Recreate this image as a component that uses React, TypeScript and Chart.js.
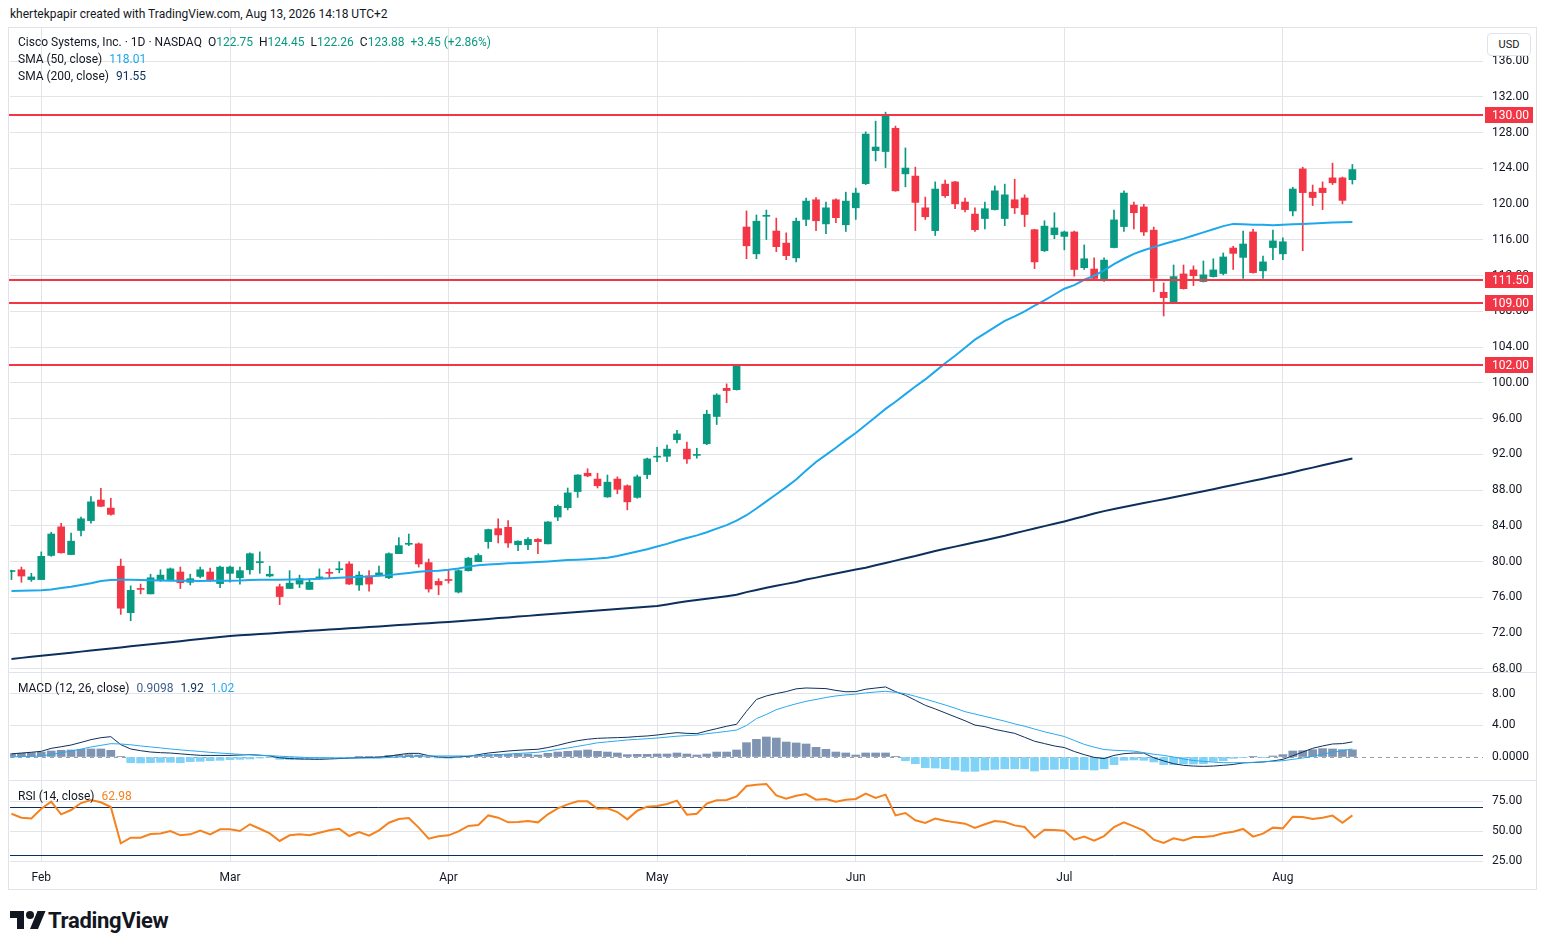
import React, { useEffect, useRef } from 'react';
import { Chart, registerables } from 'chart.js';

Chart.register(...registerables);

// ---------------- data ----------------
const dates = ['Jan 28','Jan 29','Jan 30','Feb 2','Feb 3','Feb 4','Feb 5','Feb 6','Feb 9','Feb 10','Feb 11','Feb 12','Feb 13','Feb 17','Feb 18','Feb 19','Feb 20','Feb 23','Feb 24','Feb 25','Feb 26','Feb 27','Mar 2','Mar 3','Mar 4','Mar 5','Mar 6','Mar 9','Mar 10','Mar 11','Mar 12','Mar 13','Mar 16','Mar 17','Mar 18','Mar 19','Mar 20','Mar 23','Mar 24','Mar 25','Mar 26','Mar 27','Mar 30','Mar 31','Apr 1','Apr 2','Apr 6','Apr 7','Apr 8','Apr 9','Apr 10','Apr 13','Apr 14','Apr 15','Apr 16','Apr 17','Apr 20','Apr 21','Apr 22','Apr 23','Apr 24','Apr 27','Apr 28','Apr 29','Apr 30','May 1','May 4','May 5','May 6','May 7','May 8','May 11','May 12','May 13','May 14','May 15','May 18','May 19','May 20','May 21','May 22','May 26','May 27','May 28','May 29','Jun 1','Jun 2','Jun 3','Jun 4','Jun 5','Jun 8','Jun 9','Jun 10','Jun 11','Jun 12','Jun 15','Jun 16','Jun 17','Jun 18','Jun 22','Jun 23','Jun 24','Jun 25','Jun 26','Jun 29','Jun 30','Jul 1','Jul 2','Jul 6','Jul 7','Jul 8','Jul 9','Jul 10','Jul 13','Jul 14','Jul 15','Jul 16','Jul 17','Jul 20','Jul 21','Jul 22','Jul 23','Jul 24','Jul 27','Jul 28','Jul 29','Jul 30','Jul 31','Aug 3','Aug 4','Aug 5','Aug 6','Aug 7','Aug 10','Aug 11','Aug 12'];

const opens = [
  78.9, 79.1, 78.0, 78.0, 80.7, 83.9, 80.8, 83.5, 84.6, 86.9,
  86.0, 79.5, 74.3, 77.0, 76.4, 77.9, 78.0, 78.85, 77.7, 78.35,
  78.85, 77.55, 78.7, 78.2, 79.1, 79.9, 78.4, 77.2, 77.0, 77.5,
  76.9, 78.1, 78.8, 79.1, 79.75, 77.4, 78.4, 78.5, 78.2, 80.9,
  81.95, 82.0, 79.9, 77.8, 78.0, 76.6, 79.0, 80.0, 82.25, 83.7,
  83.85, 81.9, 81.9, 82.5, 82.0, 85.0, 86.05, 87.85, 89.9, 89.25,
  87.25, 89.25, 88.5, 87.2, 89.75, 91.7, 91.8, 93.65, 92.6, 91.9,
  93.2, 96.25, 99.4, 99.25, 117.45, 114.45, 118.65, 117.0, 115.65, 114.0,
  118.3, 120.5, 117.8, 120.5, 117.7, 119.6, 122.3, 126.0, 125.9, 128.5,
  123.4, 123.15, 119.6, 117.05, 122.25, 122.5, 120.25, 118.9, 118.4, 119.4,
  118.4, 120.5, 120.7, 117.15, 114.8, 116.6, 116.4, 116.9, 112.9, 112.75,
  111.55, 115.15, 117.5, 119.9, 119.7, 117.1, 110.15, 108.95, 112.2, 112.65,
  111.35, 111.9, 112.25, 115.1, 114.05, 116.9, 112.55, 115.15, 114.45, 119.25,
  123.95, 121.35, 121.8, 122.95, 122.95, 122.75
];
const highs = [
  79.05, 79.4, 78.7, 81.1, 83.3, 84.3, 83.2, 85.0, 87.3, 88.2,
  87.1, 80.3, 77.3, 77.5, 78.6, 79.1, 79.3, 79.4, 78.6, 79.4,
  79.3, 79.5, 79.5, 79.4, 81.0, 81.1, 79.5, 77.5, 79.0, 78.5,
  78.1, 79.2, 79.2, 80.0, 80.0, 78.9, 79.0, 79.5, 81.0, 82.7,
  83.1, 82.1, 80.3, 78.1, 79.1, 79.1, 80.5, 80.9, 83.65, 84.8,
  84.6, 82.35, 82.7, 82.6, 84.5, 86.35, 88.25, 89.75, 90.4, 89.9,
  89.7, 89.5, 88.6, 89.7, 91.6, 92.8, 93.05, 94.7, 93.4, 92.7,
  96.95, 98.8, 99.9, 102.0, 119.25, 118.8, 119.35, 118.45, 116.8, 118.45,
  120.7, 120.75, 120.25, 120.6, 121.35, 121.8, 128.1, 129.3, 130.3, 128.75,
  126.3, 124.15, 120.8, 122.5, 122.7, 122.55, 120.7, 119.6, 120.25, 122.05,
  122.25, 122.8, 121.05, 117.2, 118.15, 119.05, 117.0, 117.0, 115.45, 114.0,
  114.0, 119.35, 121.5, 120.25, 120.0, 117.45, 111.2, 113.2, 113.2, 113.1,
  113.65, 113.9, 114.55, 115.3, 117.0, 117.2, 114.2, 117.1, 116.25, 121.9,
  124.15, 122.15, 122.5, 124.6, 123.05, 124.45
];
const lows = [
  78.0, 77.7, 77.8, 78.0, 80.6, 80.95, 80.8, 82.9, 84.3, 86.15,
  85.2, 74.1, 73.4, 76.4, 76.4, 77.8, 77.9, 77.0, 77.4, 78.2,
  77.8, 77.1, 77.7, 77.5, 78.6, 78.7, 78.3, 75.2, 77.0, 77.1,
  76.9, 78.0, 78.2, 78.75, 77.45, 76.8, 76.7, 78.4, 78.1, 80.9,
  81.8, 79.4, 76.6, 76.3, 77.6, 76.5, 78.95, 80.0, 81.5, 82.1,
  81.6, 81.25, 81.35, 80.9, 82.0, 84.6, 85.8, 87.2, 89.5, 88.25,
  87.2, 87.6, 85.8, 87.1, 89.3, 91.2, 91.2, 93.3, 91.0, 91.6,
  93.1, 95.35, 97.8, 99.2, 113.9, 113.9, 116.05, 114.7, 113.8, 113.55,
  117.6, 117.05, 116.7, 117.95, 116.95, 118.3, 122.2, 124.85, 124.1, 121.45,
  121.95, 117.05, 118.3, 116.5, 120.75, 119.5, 119.15, 116.95, 117.25, 119.35,
  117.6, 118.95, 117.5, 112.8, 114.7, 116.15, 114.9, 111.95, 112.7, 111.65,
  111.35, 115.1, 116.95, 117.25, 116.5, 110.2, 107.5, 108.9, 110.5, 110.9,
  111.3, 111.85, 112.1, 112.7, 111.7, 112.3, 111.7, 113.8, 113.8, 118.7,
  114.8, 119.85, 119.4, 122.2, 120.05, 122.26
];
const closes = [
  79.0, 78.4, 78.3, 80.6, 83.1, 81.0, 82.3, 84.8, 86.7, 86.2,
  85.3, 74.8, 76.8, 76.9, 78.2, 78.5, 79.2, 77.65, 78.1, 79.1,
  78.0, 79.4, 79.4, 79.0, 80.9, 80.0, 78.6, 76.1, 77.6, 78.1,
  77.7, 78.3, 78.7, 79.2, 77.5, 78.5, 77.5, 78.75, 80.9, 81.8,
  82.0, 79.75, 76.95, 77.4, 77.9, 79.0, 80.4, 80.7, 83.6, 83.0,
  82.1, 82.3, 82.5, 82.25, 84.45, 86.2, 87.7, 89.7, 89.6, 88.5,
  88.9, 88.1, 86.7, 89.5, 91.5, 91.8, 92.6, 94.3, 91.5, 92.0,
  96.5, 98.65, 99.15, 101.9, 115.35, 118.1, 118.75, 115.25, 114.25, 118.1,
  120.35, 118.15, 119.6, 118.5, 120.35, 121.25, 127.85, 126.4, 129.9, 121.5,
  124.05, 120.2, 118.6, 121.7, 120.95, 120.05, 119.4, 117.15, 119.5, 121.5,
  121.05, 119.6, 118.85, 113.55, 117.55, 117.35, 116.9, 112.7, 113.9, 111.7,
  113.75, 118.25, 121.25, 119.05, 116.9, 111.7, 109.55, 111.9, 110.55, 112.0,
  112.1, 112.65, 114.1, 114.5, 115.55, 112.35, 113.55, 115.9, 115.8, 121.7,
  121.3, 120.75, 121.3, 122.4, 120.43, 123.88
];
const sma50 = [
  76.73, 76.75, 76.77, 76.8, 76.9, 77.05, 77.2, 77.4, 77.6, 77.85,
  77.95, 77.97, 77.97, 77.95, 77.92, 77.9, 77.88, 77.87, 77.86, 77.85,
  77.86, 77.87, 77.88, 77.9, 77.95, 77.97, 77.98, 77.99, 78.0, 78.02,
  78.05, 78.1, 78.15, 78.2, 78.25, 78.3, 78.36, 78.42, 78.5, 78.62,
  78.75, 78.88, 78.97, 79.0, 79.1, 79.25, 79.45, 79.6, 79.68, 79.75,
  79.82, 79.86, 79.9, 79.96, 80.02, 80.1, 80.18, 80.22, 80.28, 80.35,
  80.45, 80.65, 80.9, 81.15, 81.4, 81.7, 82.0, 82.35, 82.65, 82.95,
  83.3, 83.7, 84.1, 84.6, 85.2, 85.95, 86.75, 87.55, 88.35, 89.2,
  90.2, 91.16, 91.95, 92.75, 93.6, 94.4, 95.3, 96.2, 97.1, 97.9,
  98.75, 99.6, 100.4, 101.3, 102.2, 103.05, 103.95, 104.85, 105.55, 106.25,
  106.95, 107.45, 108.0, 108.65, 109.25, 109.9, 110.55, 110.95, 111.55, 112.0,
  112.6, 113.3, 113.9, 114.45, 114.85, 115.2, 115.55, 115.85, 116.15, 116.5,
  116.85, 117.2, 117.55, 117.8, 117.75, 117.7, 117.7, 117.65, 117.7, 117.75,
  117.8, 117.85, 117.9, 117.95, 117.98, 118.01
];
const sma200 = [
  69.12, 69.24, 69.36, 69.47, 69.59, 69.71, 69.82, 69.94, 70.06, 70.18,
  70.29, 70.41, 70.53, 70.64, 70.76, 70.88, 71.0, 71.11, 71.23, 71.35,
  71.46, 71.58, 71.7, 71.77, 71.84, 71.91, 71.98, 72.05, 72.13, 72.2,
  72.27, 72.34, 72.41, 72.48, 72.55, 72.62, 72.69, 72.76, 72.83, 72.91,
  72.98, 73.05, 73.12, 73.19, 73.26, 73.35, 73.43, 73.52, 73.6, 73.69,
  73.77, 73.86, 73.94, 74.03, 74.11, 74.2, 74.28, 74.37, 74.45, 74.54,
  74.62, 74.71, 74.79, 74.88, 74.96, 75.05, 75.22, 75.4, 75.57, 75.71,
  75.85, 76.0, 76.14, 76.3, 76.6, 76.84, 77.08, 77.3, 77.52, 77.73,
  78.0, 78.22, 78.45, 78.68, 78.9, 79.12, 79.33, 79.6, 79.86, 80.12,
  80.38, 80.63, 80.92, 81.2, 81.45, 81.69, 81.93, 82.17, 82.41, 82.65,
  82.9, 83.18, 83.45, 83.72, 83.98, 84.24, 84.51, 84.8, 85.08, 85.4,
  85.66, 85.89, 86.12, 86.35, 86.57, 86.78, 87.0, 87.22, 87.43, 87.65,
  87.88, 88.12, 88.35, 88.59, 88.82, 89.06, 89.29, 89.53, 89.76, 90.02,
  90.28, 90.53, 90.79, 91.04, 91.3, 91.55
];
const macdLine = [
  0.4, 0.5, 0.6, 0.72, 1.1, 1.3, 1.52, 1.85, 2.2, 2.45,
  2.58, 1.57, 1.02, 0.8, 0.63, 0.55, 0.5, 0.4, 0.3, 0.21,
  0.2, 0.2, 0.2, 0.25, 0.3, 0.22, 0.13, -0.1, -0.2, -0.25,
  -0.28, -0.3, -0.25, -0.2, -0.15, -0.1, -0.06, -0.04, 0.1, 0.3,
  0.46, 0.46, 0.17, 0.0, -0.04, 0.02, 0.08, 0.3, 0.5, 0.63,
  0.76, 0.85, 0.92, 0.98, 1.2, 1.48, 1.8, 2.07, 2.25, 2.37,
  2.42, 2.46, 2.5, 2.6, 2.67, 2.79, 2.95, 3.09, 3.0, 2.96,
  3.3, 3.6, 3.9, 4.15, 5.8, 7.3, 7.75, 8.05, 8.3, 8.65,
  8.76, 8.72, 8.68, 8.45, 8.28, 8.3, 8.6, 8.75, 8.89, 8.3,
  7.83, 7.2, 6.56, 6.1, 5.6, 5.1, 4.6, 4.05, 3.85, 3.5,
  3.25, 3.0, 2.5, 2.0, 1.7, 1.4, 1.2, 0.7, 0.3, -0.05,
  -0.2, 0.2, 0.42, 0.5, 0.5, -0.1, -0.5, -0.85, -1.06, -1.15,
  -1.19, -1.15, -1.05, -0.95, -0.75, -0.7, -0.63, -0.5, -0.3, 0.15,
  0.63, 1.1, 1.4, 1.65, 1.7, 1.92
];
const signalLine = [
  0.0, 0.05, 0.09, 0.13, 0.33, 0.53, 0.75, 1.0, 1.27, 1.48,
  1.69, 1.65, 1.55, 1.4, 1.28, 1.15, 1.02, 0.9, 0.8, 0.7,
  0.59, 0.5, 0.42, 0.34, 0.28, 0.22, 0.17, 0.1, 0.04, -0.02,
  -0.08, -0.1, -0.12, -0.13, -0.13, -0.13, -0.13, -0.13, -0.06, 0.0,
  0.08, 0.1, 0.12, 0.13, 0.13, 0.13, 0.13, 0.18, 0.24, 0.3,
  0.38, 0.45, 0.52, 0.6, 0.78, 0.96, 1.14, 1.35, 1.57, 1.8,
  1.92, 2.04, 2.16, 2.24, 2.32, 2.41, 2.52, 2.64, 2.72, 2.78,
  2.95, 3.1, 3.25, 3.42, 4.0, 4.87, 5.4, 6.0, 6.4, 6.75,
  7.07, 7.3, 7.55, 7.75, 7.88, 7.98, 8.13, 8.25, 8.34, 8.2,
  8.04, 7.7, 7.35, 6.98, 6.6, 6.2, 5.75, 5.45, 5.15, 4.85,
  4.55, 4.2, 3.9, 3.55, 3.2, 2.9, 2.6, 2.1, 1.6, 1.25,
  0.95, 0.85, 0.8, 0.75, 0.55, 0.35, 0.2, 0.0, -0.25, -0.45,
  -0.55, -0.65, -0.72, -0.73, -0.72, -0.68, -0.62, -0.55, -0.47, -0.3,
  -0.13, 0.1, 0.35, 0.6, 0.8, 1.02
];
const macdHist = [
  0.42, 0.47, 0.55, 0.63, 0.76, 0.85, 0.89, 0.97, 1.02, 1.02,
  0.85, 0.08, -0.72, -0.76, -0.72, -0.68, -0.68, -0.72, -0.59, -0.55,
  -0.47, -0.42, -0.34, -0.3, -0.25, -0.13, -0.04, -0.3, -0.32, -0.3,
  -0.25, -0.2, -0.12, -0.06, -0.03, 0.02, 0.04, 0.08, 0.2, 0.25,
  0.3, 0.25, 0.0, -0.13, -0.17, -0.1, 0.05, 0.21, 0.3, 0.34,
  0.34, 0.38, 0.38, 0.25, 0.47, 0.63, 0.72, 0.8, 0.89, 0.72,
  0.63, 0.51, 0.3, 0.34, 0.34, 0.38, 0.38, 0.51, 0.38, 0.25,
  0.38, 0.63, 0.63, 0.89, 1.82, 2.24, 2.54, 2.41, 1.9, 1.78,
  1.65, 1.23, 0.97, 0.63, 0.51, 0.25, 0.51, 0.51, 0.51, 0.03,
  -0.47, -0.85, -1.35, -1.4, -1.48, -1.65, -1.82, -1.82, -1.65, -1.57,
  -1.5, -1.5, -1.5, -1.78, -1.6, -1.57, -1.5, -1.6, -1.6, -1.65,
  -1.5, -0.97, -0.42, -0.38, -0.42, -0.63, -0.97, -0.97, -0.89, -0.89,
  -0.85, -0.55, -0.47, -0.17, -0.04, 0.02, -0.04, 0.13, 0.3, 0.76,
  0.8, 0.93, 1.06, 1.02, 0.93, 0.91
];
const rsi = [
  64.4, 61.1, 60.5, 68.6, 74.4, 63.9, 67.5, 73.3, 75.8, 73.9,
  70.0, 39.7, 44.4, 44.4, 47.5, 48.0, 50.0, 46.4, 47.2, 50.3,
  47.2, 51.4, 51.4, 50.0, 55.6, 51.9, 48.0, 41.7, 46.4, 47.2,
  46.4, 48.6, 50.6, 51.9, 45.8, 49.2, 46.1, 50.6, 56.9, 60.0,
  60.8, 52.8, 43.6, 45.6, 46.4, 49.7, 54.2, 55.0, 63.0, 61.1,
  57.2, 57.5, 58.3, 57.2, 63.9, 68.9, 72.2, 74.7, 74.7, 68.6,
  68.9, 65.8, 59.7, 66.9, 70.3, 70.8, 72.5, 75.3, 63.6, 64.4,
  72.8, 75.6, 75.8, 78.9, 87.5, 88.6, 89.2, 79.7, 76.9, 79.4,
  80.8, 76.1, 76.7, 74.4, 76.1, 76.7, 81.1, 77.5, 80.3, 63.0,
  65.0, 58.9, 56.7, 60.3, 58.6, 57.2, 56.1, 52.5, 55.6, 58.3,
  57.5, 54.7, 53.3, 44.4, 51.1, 50.8, 50.3, 42.8, 45.3, 41.9,
  45.8, 53.3, 57.2, 53.9, 50.3, 42.8, 40.0, 43.9, 42.2, 45.0,
  45.0, 45.8, 48.1, 49.4, 51.7, 45.3, 47.8, 52.8, 52.2, 61.9,
  61.7, 60.0, 61.1, 62.8, 56.9, 62.98
];

const levels = [130, 111.5, 109, 102];
const priceTicks = [68, 72, 76, 80, 84, 88, 92, 96, 100, 104, 108, 112, 116, 120, 124, 128, 132, 136];
const macdTicks = [0, 4, 8];
const rsiTicks = [25, 50, 75];
const rsiBands = [70, 30];

// ---------------- style ----------------
const UP = '#089981';
const DOWN = '#f23645';
const GRID = '#e2e4e8';
const SEP = '#e0e3eb';
const TEXT = '#131722';
const FONT = 'Roboto, "Liberation Sans", Arial, sans-serif';
const SMA50_COLOR = '#1ea8ec';
const SMA200_COLOR = '#0d2f5c';
const MACD_COLOR = '#0d2f5c';
const SIGNAL_COLOR = '#2aa9ee';
const HIST_UP = '#7f94b2';
const HIST_DOWN = '#80d3f7';
const RSI_COLOR = '#f5821f';
const BAND_COLOR = '#0d2f5c';
const X_MIN = -0.15;
const X_MAX = 148.15;
const AXIS_W = 53;

Chart.defaults.font.family = FONT;

const monthTicks = dates
  .map((d, i) => (i > 0 && d.slice(0, 3) !== dates[i - 1].slice(0, 3) ? i : -1))
  .filter((i) => i >= 0);

function xScale(showLabels: boolean): any {
  return {
    type: 'linear',
    min: X_MIN,
    max: X_MAX,
    offset: false,
    afterBuildTicks: (s: any) => {
      s.ticks = monthTicks.map((v) => ({ value: v }));
    },
    afterFit: (s: any) => {
      s.height = showLabels ? 27 : 0;
      s.paddingLeft = 0;
      s.paddingRight = 0;
    },
    grid: { color: GRID, drawTicks: false, offset: false, lineWidth: 1 },
    border: { display: false },
    ticks: {
      display: showLabels,
      autoSkip: false,
      maxRotation: 0,
      padding: 9,
      color: TEXT,
      font: { family: FONT, size: 12 },
      callback: (v: any) => {
        const d = dates[Math.round(Number(v))];
        return d ? d.slice(0, 3) : '';
      },
    },
  };
}

function yScale(min: number, max: number, ticks: number[], fmt: (v: number) => string, gridColor?: any): any {
  return {
    position: 'right',
    min,
    max,
    afterBuildTicks: (s: any) => {
      s.ticks = ticks.map((v) => ({ value: v }));
    },
    afterFit: (s: any) => {
      s.width = AXIS_W;
      s.paddingTop = 0;
      s.paddingBottom = 0;
    },
    grid: { color: gridColor || GRID, drawTicks: false, lineWidth: 1 },
    border: { display: false },
    ticks: {
      padding: 9,
      color: TEXT,
      font: { family: FONT, size: 12 },
      callback: (v: any) => fmt(Number(v)),
    },
  };
}

const levelsPlugin = {
  id: 'levels',
  afterDraw(chart: any) {
    const { ctx, chartArea, scales } = chart;
    const y = scales.y;
    ctx.save();
    levels.forEach((v) => {
      const py = Math.round(y.getPixelForValue(v));
      ctx.strokeStyle = DOWN;
      ctx.lineWidth = 2;
      ctx.beginPath();
      ctx.moveTo(chartArea.left - 2, py);
      ctx.lineTo(chartArea.right, py);
      ctx.stroke();
      ctx.fillStyle = DOWN;
      ctx.fillRect(chartArea.right + 2, py - 8, 48, 16);
      ctx.fillStyle = '#ffffff';
      ctx.font = '12px ' + FONT;
      ctx.textBaseline = 'middle';
      ctx.textAlign = 'left';
      ctx.fillText(v.toFixed(2), chartArea.right + 9, py + 0.5);
    });
    ctx.restore();
  },
};

const zeroLinePlugin = {
  id: 'zeroLine',
  beforeDatasetsDraw(chart: any) {
    const { ctx, chartArea, scales } = chart;
    const py = Math.round(scales.y.getPixelForValue(0)) + 0.5;
    ctx.save();
    ctx.strokeStyle = '#9aa0aa';
    ctx.lineWidth = 1;
    ctx.setLineDash([4, 4]);
    ctx.beginPath();
    ctx.moveTo(chartArea.left, py);
    ctx.lineTo(chartArea.right, py);
    ctx.stroke();
    ctx.restore();
  },
};

const bandsPlugin = {
  id: 'bands',
  beforeDatasetsDraw(chart: any) {
    const { ctx, chartArea, scales } = chart;
    ctx.save();
    ctx.strokeStyle = BAND_COLOR;
    ctx.lineWidth = 1;
    rsiBands.forEach((v) => {
      const py = Math.round(scales.y.getPixelForValue(v)) + 0.5;
      ctx.beginPath();
      ctx.moveTo(chartArea.left, py);
      ctx.lineTo(chartArea.right, py);
      ctx.stroke();
    });
    ctx.restore();
  },
};

const baseOptions = {
  responsive: false,
  animation: false,
  events: [],
  layout: { padding: { left: 1, right: 0, top: 0, bottom: 0 } },
  plugins: { legend: { display: false }, tooltip: { enabled: false } },
};

function priceConfig(): any {
  const colors = closes.map((c, i) => (c >= opens[i] ? UP : DOWN));
  return {
    type: 'bar',
    data: {
      datasets: [
        {
          type: 'line',
          data: sma200.map((v, i) => ({ x: i, y: v })),
          borderColor: SMA200_COLOR,
          borderWidth: 2,
          pointRadius: 0,
          order: 0,
        },
        {
          type: 'line',
          data: sma50.map((v, i) => ({ x: i, y: v })),
          borderColor: SMA50_COLOR,
          borderWidth: 2,
          pointRadius: 0,
          order: 0,
        },
        {
          type: 'bar',
          data: dates.map((_, i) => ({ x: i, y: [opens[i], closes[i]] })),
          backgroundColor: colors,
          barThickness: 7,
          grouped: false,
          minBarLength: 1,
          order: 1,
        },
        {
          type: 'bar',
          data: dates.map((_, i) => ({ x: i, y: [lows[i], highs[i]] })),
          backgroundColor: colors,
          barThickness: 1,
          grouped: false,
          order: 2,
        },
      ],
    },
    options: {
      ...baseOptions,
      scales: {
        x: xScale(false),
        y: yScale(67.66, 139.72, priceTicks, (v) => v.toFixed(2)),
      },
    },
    plugins: [levelsPlugin],
  };
}

function macdConfig(): any {
  return {
    type: 'bar',
    data: {
      datasets: [
        {
          type: 'line',
          data: signalLine.map((v, i) => ({ x: i, y: v })),
          borderColor: SIGNAL_COLOR,
          borderWidth: 1,
          pointRadius: 0,
          order: 0,
        },
        {
          type: 'line',
          data: macdLine.map((v, i) => ({ x: i, y: v })),
          borderColor: MACD_COLOR,
          borderWidth: 1,
          pointRadius: 0,
          order: 0,
        },
        {
          type: 'bar',
          data: macdHist.map((v, i) => ({ x: i, y: v })),
          backgroundColor: macdHist.map((v) => (v >= 0 ? HIST_UP : HIST_DOWN)),
          barThickness: 8,
          grouped: false,
          order: 1,
        },
      ],
    },
    options: {
      ...baseOptions,
      scales: {
        x: xScale(false),
        y: yScale(-2.92, 10.66, macdTicks, (v) => (v === 0 ? '0.0000' : v.toFixed(2)), (c: any) =>
          c.tick && c.tick.value === 0 ? 'rgba(0,0,0,0)' : GRID
        ),
      },
    },
    plugins: [zeroLinePlugin],
  };
}

function rsiConfig(): any {
  return {
    type: 'line',
    data: {
      datasets: [
        {
          data: rsi.map((v, i) => ({ x: i, y: v })),
          borderColor: RSI_COLOR,
          borderWidth: 2,
          pointRadius: 0,
        },
      ],
    },
    options: {
      ...baseOptions,
      scales: {
        x: xScale(true),
        y: yScale(24.17, 91.67, rsiTicks, (v) => v.toFixed(2)),
      },
    },
    plugins: [bandsPlugin],
  };
}

function ChartCanvas({ left, top, width, height, make }: any) {
  const ref = useRef<HTMLCanvasElement>(null);
  useEffect(() => {
    const chart = new Chart(ref.current as HTMLCanvasElement, make());
    return () => chart.destroy();
  }, []);
  return (
    <canvas
      ref={ref}
      width={width}
      height={height}
      style={{ position: 'absolute', left, top, width, height }}
    />
  );
}

const abs = (left: number, top: number, extra: any = {}): any => ({
  position: 'absolute',
  left,
  top,
  whiteSpace: 'nowrap',
  pointerEvents: 'none',
  ...extra,
});

export default function App() {
  const legendText: any = { fontSize: 12, lineHeight: '16px', color: TEXT, fontFamily: FONT };
  const val = (c: string, ml = 1): any => ({ color: c, marginLeft: ml });
  return (
    <div style={{ position: 'absolute', left: 0, top: 0, width: 1547, height: 951, background: '#fff', fontFamily: FONT }}>
      <div style={abs(10, 6, { ...legendText })}>
        khertekpapir created with TradingView.com, Aug 13, 2026 14:18 UTC+2
      </div>
      <div style={abs(8, 27, { width: 1529, height: 863, border: '1px solid ' + SEP, boxSizing: 'border-box' })} />

      <ChartCanvas left={9} top={28} width={1527} height={644} make={priceConfig} />
      <div style={abs(9, 672, { width: 1527, height: 1, background: SEP })} />
      <ChartCanvas left={9} top={673} width={1527} height={107} make={macdConfig} />
      <div style={abs(9, 780, { width: 1527, height: 1, background: SEP })} />
      <ChartCanvas left={9} top={781} width={1527} height={108} make={rsiConfig} />

      {/* price legend */}
      <div style={abs(18, 34, legendText)}>
        <span>Cisco Systems, Inc. · 1D · NASDAQ</span>
        <span style={{ marginLeft: 6 }}>O</span><span style={val(UP, 0)}>122.75</span>
        <span style={{ marginLeft: 6 }}>H</span><span style={val(UP, 0)}>124.45</span>
        <span style={{ marginLeft: 6 }}>L</span><span style={val(UP, 0)}>122.26</span>
        <span style={{ marginLeft: 6 }}>C</span><span style={val(UP, 0)}>123.88</span>
        <span style={val(UP, 6)}>+3.45 (+2.86%)</span>
      </div>
      <div style={abs(18, 51, legendText)}>
        <span>SMA (50, close)</span>
        <span style={val(SMA50_COLOR, 7)}>118.01</span>
      </div>
      <div style={abs(18, 68, legendText)}>
        <span>SMA (200, close)</span>
        <span style={val(SMA200_COLOR, 7)}>91.55</span>
      </div>
      <div style={abs(1487, 33, { width: 44, height: 23, border: '1px solid ' + SEP, borderRadius: 4, background: '#fff', boxSizing: 'border-box', fontSize: 11, lineHeight: '21px', textAlign: 'center', color: TEXT })}>
        USD
      </div>

      {/* MACD legend */}
      <div style={abs(18, 680, legendText)}>
        <span>MACD (12, 26, close)</span>
        <span style={val('#3f5f8a', 7)}>0.9098</span>
        <span style={val(MACD_COLOR, 7)}>1.92</span>
        <span style={val(SIGNAL_COLOR, 7)}>1.02</span>
      </div>

      {/* RSI legend */}
      <div style={abs(18, 788, legendText)}>
        <span>RSI (14, close)</span>
        <span style={val(RSI_COLOR, 7)}>62.98</span>
      </div>

      {/* TradingView logo */}
      <div style={abs(10, 907, { display: 'flex', alignItems: 'center', color: TEXT })}>
        <svg width="36" height="26" viewBox="0 0 36 26">
          <path d="M14 22H7V11H0V4h14v18z" fill={TEXT} />
          <circle cx="20" cy="8" r="4" fill={TEXT} />
          <path d="M28 22h-8l7.5-18h8L28 22z" fill={TEXT} />
        </svg>
        <span style={{ fontSize: 22, fontWeight: 700, marginLeft: 2, letterSpacing: -0.3 }}>TradingView</span>
      </div>
    </div>
  );
}
